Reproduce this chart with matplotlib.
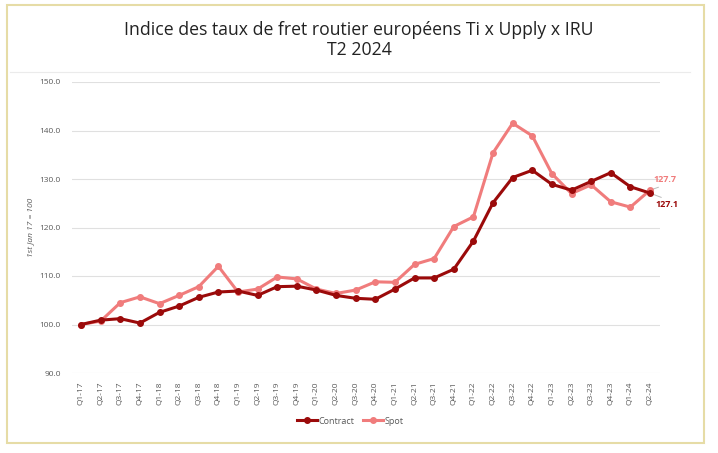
import matplotlib
matplotlib.use("Agg")
import matplotlib.pyplot as plt
from matplotlib.patches import Rectangle
from matplotlib.lines import Line2D

quarters = ["Q1-17","Q2-17","Q3-17","Q4-17","Q1-18","Q2-18","Q3-18","Q4-18",
            "Q1-19","Q2-19","Q3-19","Q4-19","Q1-20","Q2-20","Q3-20","Q4-20",
            "Q1-21","Q2-21","Q3-21","Q4-21","Q1-22","Q2-22","Q3-22","Q4-22",
            "Q1-23","Q2-23","Q3-23","Q4-23","Q1-24","Q2-24"]
contract = [100.0,100.9,101.2,100.3,102.5,103.8,105.6,106.7,106.9,106.0,107.8,107.9,
            107.1,106.0,105.4,105.2,107.3,109.6,109.6,111.4,117.2,125.1,130.3,131.8,
            128.9,127.7,129.5,131.3,128.4,127.1]
spot = [100.0,100.7,104.5,105.7,104.3,106.0,107.8,112.0,106.7,107.3,109.8,109.4,
        107.3,106.4,107.1,108.8,108.7,112.4,113.6,120.2,122.2,135.4,141.5,138.9,
        131.1,127.0,128.8,125.3,124.2,127.7]
yticks = [90, 100, 110, 120, 130, 140, 150]

c_col = "#9B0A0A"
s_col = "#F07C7C"

plt.rcParams['font.family'] = ['Open Sans', 'DejaVu Sans']
fig = plt.figure(figsize=(7.18, 4.53), dpi=100)

# outer border
fig.patches.append(Rectangle((7/718, 1-443/453), 697/718, 438/453, transform=fig.transFigure,
                             fill=False, edgecolor="#E6DCA6", linewidth=1.5))
# separator line under title
fig.add_artist(Line2D([10/718, 690/718], [1-72/453, 1-72/453], transform=fig.transFigure,
                      color="#EBEBEB", linewidth=0.8))

t1 = fig.text(0.5, 1-30/453, "Indice des taux de fret routier européens Ti x Upply x IRU",
              ha="center", va="center", fontsize=13, color="#222222")
t2 = fig.text(0.5, 1-50/453, "T2 2024", ha="center", va="center", fontsize=13, color="#222222")
# fit title width to ~466 px
r = fig.canvas.get_renderer()
w = t1.get_window_extent(r).width
fs = 13 * 466 / w
t1.set_fontsize(fs)
t2.set_fontsize(fs)

ax = fig.add_axes([72/718, 1-373/453, (660-72)/718, (373-82)/453])
x = list(range(len(quarters)))
ax.plot(x, contract, color=c_col, lw=2.2, marker="o", ms=4, label="Contract", zorder=3)
ax.plot(x, spot, color=s_col, lw=2.2, marker="o", ms=4, label="Spot", zorder=2)

ax.set_xlim(-0.46, 29.51)
ax.set_ylim(90, 150)
ax.set_yticks(yticks)
ax.set_yticklabels([f"{v:.1f}" for v in yticks])
ax.set_xticks(x)
ax.set_xticklabels(quarters, rotation=90)
ax.tick_params(axis="both", length=0, labelsize=6, colors="#595959")
ax.tick_params(axis="x", pad=6)
ax.tick_params(axis="y", pad=8)
ax.grid(axis="y", color="#E0E0E0", lw=0.8)
ax.set_axisbelow(True)
for s in ax.spines.values():
    s.set_visible(False)
ax.set_ylabel("1st Jan 17 = 100", fontsize=6, color="#595959", style="italic", labelpad=4)

# end labels with leader lines
n = len(quarters) - 1
ax.annotate(f"{spot[-1]:.1f}", xy=(n, spot[-1]), xytext=(n + 0.2, spot[-1] + 2.1),
            fontsize=6.5, color=s_col, fontweight="bold", ha="left", va="center",
            annotation_clip=False,
            arrowprops=dict(arrowstyle="-", color="#BBBBBB", lw=0.7, shrinkA=0, shrinkB=0,
                            relpos=(0.55, 0.0)), zorder=1)
ax.annotate(f"{contract[-1]:.1f}", xy=(n, contract[-1]), xytext=(n + 0.3, contract[-1] - 2.4),
            fontsize=6.5, color=c_col, fontweight="bold", ha="left", va="center",
            annotation_clip=False,
            arrowprops=dict(arrowstyle="-", color="#BBBBBB", lw=0.7, shrinkA=0, shrinkB=0,
                            relpos=(0.55, 1.0)), zorder=1)

leg = fig.legend(handles=ax.get_lines(), loc="center", bbox_to_anchor=(0.488, 1-421/453),
                 ncol=2, frameon=False, fontsize=6.5, handlelength=2.2, columnspacing=1.0,
                 handletextpad=0.2, labelcolor="#595959")

fig.savefig("out.png", dpi=100)
